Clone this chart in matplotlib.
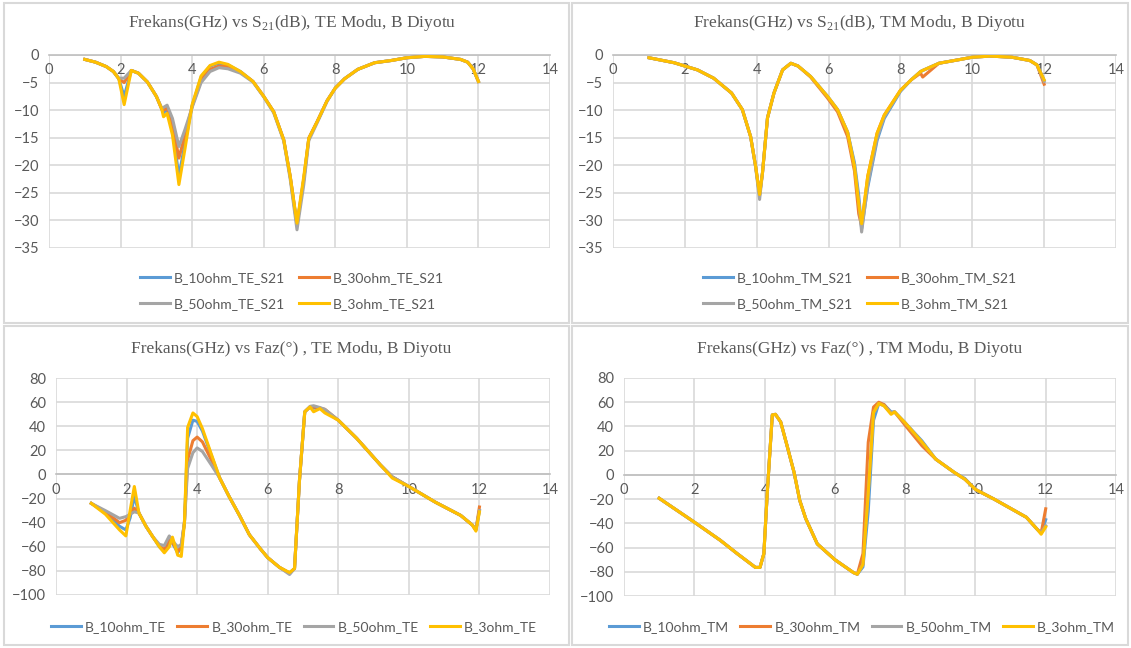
import numpy as np
import matplotlib.pyplot as plt
from matplotlib.patches import Rectangle

plt.rcParams['font.family'] = ['Lato', 'DejaVu Sans']
plt.rcParams['mathtext.fontset'] = 'custom'
plt.rcParams['mathtext.rm'] = 'Liberation Serif'

# renkler (Excel varsayilan)
C_BLUE = '#5B9BD5'
C_ORANGE = '#ED7D31'
C_GRAY = '#A5A5A5'
C_YELLOW = '#FFC000'
TXT = '#595959'
GRID = '#D9D9D9'

# ---------------- TE S21 ----------------
f_te_s21 = [1.0, 1.3, 1.6, 1.8, 1.95, 2.1, 2.3, 2.5, 2.75, 3.0, 3.15, 3.2, 3.3, 3.45, 3.63,
            3.8, 4.0, 4.25, 4.5, 4.75, 5.0, 5.35, 5.7, 6.0, 6.28, 6.56, 6.74, 6.93, 7.12, 7.26,
            7.5, 7.77, 8.0, 8.26, 8.63, 9.1, 9.56, 10.0, 10.5, 11.0, 11.5, 11.7, 11.85, 12.0]
te_s21_10 = [-0.8, -1.3, -2.1, -3.0, -4.3, -7.5, -2.8, -3.3, -4.9, -7.5, -9.8, -10.5, -9.8, -13.5, -22.0,
             -16.0, -9.2, -4.0, -2.0, -1.5, -1.8, -3.0, -4.8, -7.5, -10.3, -15.4, -22.0, -30.8, -22.5, -15.1,
             -12.0, -8.3, -6.0, -4.3, -2.6, -1.4, -1.0, -0.5, -0.25, -0.35, -0.8, -1.3, -2.5, -4.8]
te_s21_30 = [-0.8, -1.3, -2.1, -3.0, -4.3, -5.0, -2.8, -3.3, -4.9, -7.5, -9.8, -10.0, -9.6, -12.5, -18.7,
             -14.5, -9.3, -4.6, -2.6, -2.0, -2.1, -3.1, -4.8, -7.5, -10.3, -15.4, -22.0, -30.8, -22.5, -15.1,
             -12.0, -8.3, -6.0, -4.3, -2.6, -1.4, -1.0, -0.5, -0.25, -0.35, -0.8, -1.3, -2.5, -4.8]
te_s21_50 = [-0.8, -1.3, -2.1, -3.0, -4.2, -4.2, -2.8, -3.3, -4.9, -7.5, -9.6, -9.5, -9.1, -11.5, -16.6,
             -13.5, -9.5, -5.0, -3.0, -2.3, -2.5, -3.3, -4.9, -7.6, -10.5, -15.6, -22.5, -31.7, -23.5, -15.5,
             -12.2, -8.4, -6.0, -4.3, -2.6, -1.4, -1.0, -0.5, -0.25, -0.35, -0.8, -1.3, -2.5, -4.8]
te_s21_3 = [-0.8, -1.3, -2.1, -3.0, -4.3, -9.0, -2.8, -3.3, -4.9, -7.5, -9.8, -11.2, -10.6, -14.5, -23.5,
            -17.0, -9.0, -3.8, -1.9, -1.3, -1.7, -3.0, -4.8, -7.5, -10.3, -15.4, -22.0, -30.5, -22.0, -15.1,
            -12.0, -8.3, -6.0, -4.3, -2.6, -1.4, -1.0, -0.5, -0.25, -0.35, -0.8, -1.3, -2.5, -4.8]

# ---------------- TM S21 ----------------
f_tm_s21 = [1.0, 1.7, 2.35, 2.8, 3.3, 3.6, 3.83, 3.97, 4.08, 4.16, 4.3, 4.48, 4.72, 4.95, 5.15,
            5.5, 5.97, 6.25, 6.53, 6.72, 6.84, 6.92, 7.09, 7.35, 7.55, 8.0, 8.3, 8.56, 8.62, 9.07,
            9.67, 10.0, 10.5, 11.1, 11.6, 11.8, 12.0]
tm_s21_10 = [-0.5, -1.4, -2.7, -4.2, -6.9, -9.9, -14.8, -20.2, -25.5, -21.4, -11.4, -6.9, -2.7, -1.5, -2.0,
             -3.9, -7.5, -9.9, -14.0, -19.5, -25.5, -31.5, -24.0, -15.5, -11.5, -6.6, -4.5, -3.0, -2.8, -1.5,
             -0.8, -0.4, -0.2, -0.4, -1.0, -1.8, -4.6]
tm_s21_30 = [-0.5, -1.4, -2.7, -4.2, -6.9, -9.9, -14.8, -20.2, -25.3, -21.4, -11.4, -6.9, -2.7, -1.5, -2.0,
             -4.0, -7.8, -10.3, -14.8, -21.0, -28.8, -31.0, -22.0, -14.2, -10.9, -6.4, -4.5, -3.3, -4.0, -1.5,
             -0.8, -0.4, -0.2, -0.4, -1.0, -1.8, -5.3]
tm_s21_50 = [-0.5, -1.4, -2.7, -4.2, -6.9, -9.9, -14.8, -20.4, -26.2, -21.4, -11.4, -6.9, -2.7, -1.5, -2.0,
             -3.9, -7.5, -9.9, -14.0, -20.0, -26.5, -32.1, -23.5, -15.0, -11.2, -6.5, -4.5, -3.0, -2.8, -1.5,
             -0.8, -0.4, -0.2, -0.4, -1.0, -1.8, -4.8]
tm_s21_3 = [-0.5, -1.4, -2.7, -4.2, -6.9, -9.9, -14.8, -20.2, -25.3, -21.4, -11.4, -6.9, -2.7, -1.5, -2.0,
            -3.9, -7.5, -9.9, -14.0, -20.2, -27.0, -30.6, -22.0, -14.2, -10.9, -6.4, -4.5, -3.0, -2.8, -1.5,
            -0.8, -0.4, -0.2, -0.4, -1.0, -1.8, -4.5]

# ---------------- TE faz ----------------
f_te_faz = [1.0, 1.4, 1.8, 1.98, 2.1, 2.22, 2.35, 2.55, 2.75, 2.93, 3.07, 3.21, 3.3, 3.45, 3.55,
            3.64, 3.73, 3.88, 4.0, 4.15, 4.4, 4.64, 4.9, 5.2, 5.48, 5.8, 6.0, 6.33, 6.62, 6.76,
            6.9, 7.05, 7.2, 7.3, 7.48, 7.62, 8.0, 8.52, 9.19, 9.53, 10.0, 10.75, 11.47, 11.8, 11.9,
            12.0]
te_faz_10 = [-24, -32, -43, -46, -36, -18, -32, -43, -52, -60, -64, -55, -57, -65, -60,
             -40, 30, 45, 44, 36, 16, -3, -18, -34, -50, -62, -69, -77, -81.8, -78,
             -5, 52, 56, 55, 55, 53, 45, 30, 8, -2, -10, -23, -34, -42, -46,
             -30]
te_faz_30 = [-24, -31, -40, -38, -33, -28, -32, -43, -52, -59, -62.6, -53, -56, -64, -60,
             -40, 12, 28, 31, 27, 12, -3, -18, -34, -50, -62, -69, -77, -82, -78,
             -5, 52, 56, 56, 55, 54, 45, 30, 8, -2, -10, -23, -34, -42, -46,
             -27]
te_faz_50 = [-24, -30, -36.4, -35, -33, -31, -32, -43, -52, -58, -59, -51, -55, -60, -58,
             -40, 5, 18, 22, 19, 8, -3, -18, -34, -50, -62, -69, -77, -83, -78,
             -5, 52, 56.5, 57, 55.5, 54, 45, 30, 8, -2, -10, -23, -34, -42, -46,
             -30]
te_faz_3 = [-24, -33, -46, -51, -30, -10, -32, -43, -52, -60, -65, -60, -52, -67, -68,
            -40, 39, 51, 48, 38, 17, -3, -18, -34, -50, -62, -69, -77, -81.4, -78,
            -4.7, 52, 56, 52, 54.6, 51, 45, 30, 8, -3, -10, -23, -34, -42, -47,
            -31]

# ---------------- TM faz ----------------
f_tm_faz = [1.0, 2.0, 2.74, 3.22, 3.74, 3.87, 3.98, 4.08, 4.22, 4.31, 4.46, 4.65, 4.84, 5.0, 5.17,
            5.5, 6.0, 6.53, 6.64, 6.8, 6.95, 7.1, 7.25, 7.4, 7.6, 7.7, 8.0, 8.48, 8.87, 9.4,
            9.7, 10.0, 10.53, 11.45, 11.76, 11.87, 12.0]
tm_faz_10 = [-19.3, -39, -54, -65, -76.4, -76.4, -65, -13, 49.5, 50, 43.6, 23, 2, -21, -36,
             -57, -70, -80.7, -82, -76, -30, 45, 59, 58, 52, 52, 43, 28, 13, 2,
             -3, -12, -20, -35, -45, -48, -37]
tm_faz_30 = [-19.3, -39, -54, -65, -76.4, -76.4, -65, -13, 49.5, 50, 43.6, 23, 2, -21, -36,
             -57, -70, -80.7, -82, -65, 27, 56, 60, 58, 51, 52, 41, 24, 13, 2,
             -3.6, -12, -20, -35, -45, -48, -28]
tm_faz_50 = [-19.3, -39, -54, -65, -76.4, -76.4, -65, -13, 49.5, 50, 43.6, 23, 2, -21, -36,
             -57, -70, -80.7, -82, -74, -15, 51, 59, 57, 51, 52, 43, 27, 13, 2,
             -3.6, -12, -20, -35, -45, -48, -42]
tm_faz_3 = [-19.3, -39, -54, -65, -76.4, -76.4, -65, -13, 49.5, 50, 43.6, 23, 2, -21, -36,
            -57, -70, -80.7, -82, -74, -15, 51.5, 59, 57, 50, 52, 43, 27, 13, 2,
            -3.6, -12, -20, -35, -45, -49, -43]

W, H = 1131, 648
fig = plt.figure(figsize=(W / 100, H / 100), dpi=100)


def px_axes(left, top, right, bottom):
    return fig.add_axes([left / W, 1 - bottom / H, (right - left) / W, (bottom - top) / H])


def style(ax, ylim, ystep):
    ax.set_xlim(0, 14)
    ax.set_ylim(*ylim)
    ax.set_xticks(np.arange(0, 15, 2))
    ax.set_yticks(np.arange(ylim[0], ylim[1] + 1, ystep))
    ax.grid(True, color=GRID, lw=1.2, zorder=0)
    for s in ['top', 'right', 'left']:
        ax.spines[s].set_visible(False)
    ax.spines['bottom'].set_position(('data', 0))
    ax.spines['bottom'].set_color('#BFBFBF')
    ax.spines['bottom'].set_linewidth(1.2)
    ax.spines['bottom'].set_zorder(1)
    ax.tick_params(axis='both', length=0, labelsize=10.5, labelcolor=TXT)
    ax.tick_params(axis='x', pad=6)
    ax.tick_params(axis='y', pad=7)
    ax.set_axisbelow(True)


def draw(ax, f, series, labels):
    handles = []
    for vals, col, lab in zip(series, [C_BLUE, C_ORANGE, C_GRAY, C_YELLOW], labels):
        h, = ax.plot(f, vals, color=col, lw=2.2, label=lab, zorder=3, solid_joinstyle='round')
        handles.append(h)
    return handles


# panel kenarlari
for (x0, y0, x1, y1) in [(4, 3, 569, 323), (572, 3, 1128, 323), (4, 326, 569, 645), (572, 326, 1128, 645)]:
    fig.add_artist(Rectangle((x0 / W, 1 - y1 / H), (x1 - x0) / W, (y1 - y0) / H,
                             transform=fig.transFigure, fill=False, ec=GRID, lw=1.5))

title_kw = dict(ha='center', va='center', fontsize=12.5, color=TXT, family='Liberation Serif')
leg2_kw = dict(ncol=2, loc='center', bbox_transform=fig.transFigure, frameon=False, fontsize=10,
               labelcolor=TXT, handlelength=2.15, columnspacing=1.0, handletextpad=0.3, labelspacing=1.0)
leg4_kw = dict(ncol=4, loc='center', bbox_transform=fig.transFigure, frameon=False, fontsize=10,
               labelcolor=TXT, handlelength=2.15, columnspacing=0.8, handletextpad=0.3)

# 1) TE S21
ax1 = px_axes(49, 55, 550, 248)
style(ax1, (-35, 0), 5)
h = draw(ax1, f_te_s21, [te_s21_10, te_s21_30, te_s21_50, te_s21_3],
         ['B_10ohm_TE_S21', 'B_30ohm_TE_S21', 'B_50ohm_TE_S21', 'B_3ohm_TE_S21'])
fig.text(292 / W, 1 - 23 / H, r'Frekans(GHz) vs S$_{\mathrm{21}}$(dB), TE Modu, B Diyotu', **title_kw)
order = [h[0], h[2], h[1], h[3]]
ax1.legend(order, [x.get_label() for x in order], bbox_to_anchor=(292 / W, 1 - 291 / H), **leg2_kw)

# 2) TM S21
ax2 = px_axes(613, 55, 1116, 248)
style(ax2, (-35, 0), 5)
h = draw(ax2, f_tm_s21, [tm_s21_10, tm_s21_30, tm_s21_50, tm_s21_3],
         ['B_10ohm_TM_S21', 'B_30ohm_TM_S21', 'B_50ohm_TM_S21', 'B_3ohm_TM_S21'])
fig.text(860 / W, 1 - 23 / H, r'Frekans(GHz) vs S$_{\mathrm{21}}$(dB), TM Modu, B Diyotu', **title_kw)
order = [h[0], h[2], h[1], h[3]]
ax2.legend(order, [x.get_label() for x in order], bbox_to_anchor=(860 / W, 1 - 291 / H), **leg2_kw)

# 3) TE faz
ax3 = px_axes(56, 378, 550, 595)
style(ax3, (-100, 80), 20)
h = draw(ax3, f_te_faz, [te_faz_10, te_faz_30, te_faz_50, te_faz_3],
         ['B_10ohm_TE', 'B_30ohm_TE', 'B_50ohm_TE', 'B_3ohm_TE'])
fig.text(291 / W, 1 - 349 / H, 'Frekans(GHz) vs Faz(°) , TE Modu, B Diyotu', **title_kw)
ax3.legend(handles=h, bbox_to_anchor=(294 / W, 1 - 627 / H), **leg4_kw)

# 4) TM faz
ax4 = px_axes(624, 378, 1116, 596)
style(ax4, (-100, 80), 20)
h = draw(ax4, f_tm_faz, [tm_faz_10, tm_faz_30, tm_faz_50, tm_faz_3],
         ['B_10ohm_TM', 'B_30ohm_TM', 'B_50ohm_TM', 'B_3ohm_TM'])
fig.text(860 / W, 1 - 349 / H, 'Frekans(GHz) vs Faz(°) , TM Modu, B Diyotu', **title_kw)
ax4.legend(handles=h, bbox_to_anchor=(862 / W, 1 - 627 / H), **leg4_kw)

fig.savefig('out.png', dpi=100, facecolor='white')
